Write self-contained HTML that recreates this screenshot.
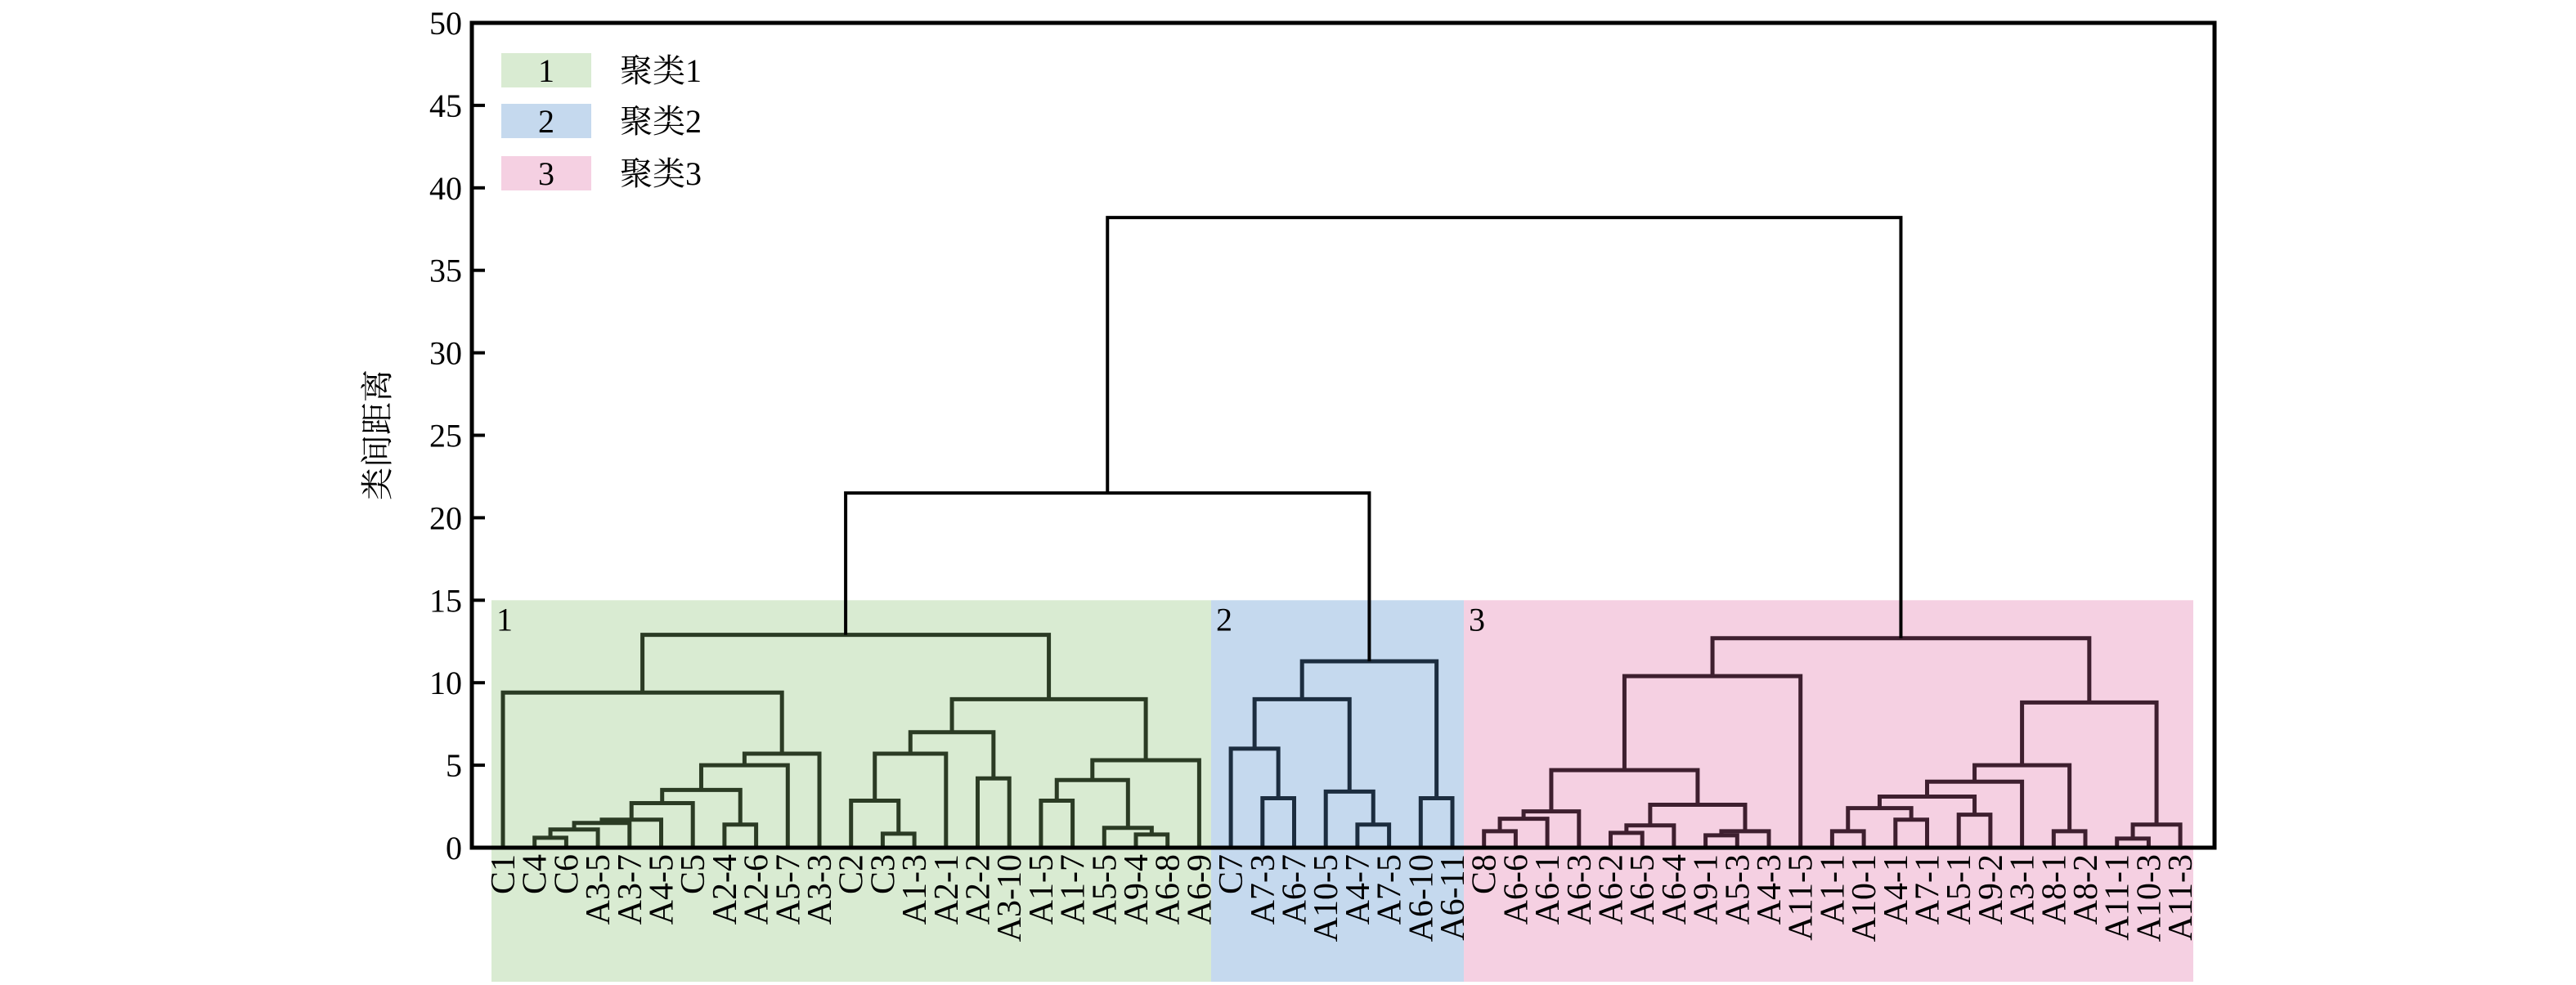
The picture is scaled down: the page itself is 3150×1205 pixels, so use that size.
<!DOCTYPE html>
<html><head><meta charset="utf-8"><style>
html,body{margin:0;padding:0;background:#fff;}
svg{display:block;}
text{font-family:"Liberation Serif","Noto Serif CJK SC",serif;}
</style></head><body>
<svg id="chart" width="3150" height="1205" viewBox="0 0 3150 1205" xmlns="http://www.w3.org/2000/svg">
<g id="bands"></g>
<g id="links"></g>
<g id="frame"></g>
<g id="labels"></g>
<g id="legend"></g>
</svg>
<script>
const leafNames=["C1","C4","C6","A3-5","A3-7","A4-5","C5","A2-4","A2-6","A5-7","A3-3","C2","C3","A1-3","A2-1","A2-2","A3-10","A1-5","A1-7","A5-5","A9-4","A6-8","A6-9",
"C7","A7-3","A6-7","A10-5","A4-7","A7-5","A6-10","A6-11",
"C8","A6-6","A6-1","A6-3","A6-2","A6-5","A6-4","A9-1","A5-3","A4-3","A11-5","A1-1","A10-1","A4-1","A7-1","A5-1","A9-2","A3-1","A8-1","A8-2","A11-1","A10-3","A11-3"];
const mergeLeft=[1,54,55,56,57,7,58,60,61,0,12,11,65,15,66,17,20,19,69,72,68,63,
24,23,27,26,77,29,80,
31,83,84,35,86,38,88,87,85,91,42,44,93,46,95,97,49,98,51,101,100,92,
75,105];
const mergeRight=[2,3,4,5,6,8,59,9,10,62,13,64,14,16,67,18,21,70,71,22,73,74,
25,76,28,78,79,30,81,
32,33,34,36,37,39,40,89,90,41,43,45,94,47,96,48,50,99,52,53,102,103,
82,104];
const mergeHeight=[0.6,1.1,1.5,1.7,2.7,1.4,3.5,5.0,5.7,9.4,0.85,2.85,5.7,4.2,7.0,2.85,0.8,1.2,4.1,5.3,9.0,12.9,
3.0,6.0,1.4,3.4,9.0,3.0,11.3,
1.0,1.75,2.2,0.9,1.35,0.75,1.0,2.6,4.7,10.4,1.0,1.7,2.4,2.0,3.1,4.0,1.0,5.0,0.55,1.4,8.8,12.7,
21.5,38.2];
const clusterNames=["聚类1","聚类2","聚类3"];
const clusterStart=[0,23,31];
const clusterEnd=[22,30,53];
const yTicks=[0,5,10,15,20,25,30,35,40,45,50];
const bandTop=15;

const NS="http://www.w3.org/2000/svg";
const X0=577,X1=2708,Y0=1037,Y1=28,yMax=50;
const leafX0=615,leafStep=38.7;
const xLeaf=i=>leafX0+i*leafStep;
const yv=v=>Y0-(v/yMax)*(Y0-Y1);
const bandFill=["#d9ebd2","#c5d9ee","#f5d0e2"];
const lineCol=["#2b3b24","#1c2d3f","#3e1f2f"];
function mk(tag,attrs,parent){const e=document.createElementNS(NS,tag);for(const k in attrs)e.setAttribute(k,attrs[k]);parent.appendChild(e);return e;}

const bands=document.getElementById('bands');
const bandEdges=[601,1481,1790,2682];
for(let c=0;c<3;c++){
  const r=mk('rect',{x:bandEdges[c],y:yv(bandTop),width:bandEdges[c+1]-bandEdges[c],height:1201-yv(bandTop),fill:bandFill[c]},bands);
  
  
  const t=mk('text',{x:bandEdges[c]+6,y:yv(bandTop)+37,'font-size':40,fill:'#000'},bands);
  t.textContent=String(c+1);
  
  
}

const N=leafNames.length;
const nodeX=[],nodeH=[],nodeC=[];
for(let i=0;i<N;i++){nodeX[i]=xLeaf(i);nodeH[i]=0;nodeC[i]=clusterStart.findIndex((s,c)=>i>=s&&i<=clusterEnd[c]);}
const links=document.getElementById('links');
for(let k=0;k<mergeHeight.length;k++){
  const a=mergeLeft[k],b=mergeRight[k],h=mergeHeight[k];
  const id=N+k;
  nodeX[id]=(nodeX[a]+nodeX[b])/2;nodeH[id]=h;
  nodeC[id]=(nodeC[a]===nodeC[b])?nodeC[a]:-1;
  const col=nodeC[id]<0?'#000':lineCol[nodeC[id]];
  const w=nodeC[id]<0?4:5;
  const p=mk('path',{d:`M${nodeX[a]},${yv(nodeH[a])}V${yv(h)}H${nodeX[b]}V${yv(nodeH[b])}`,fill:'none',stroke:col,'stroke-width':w,'stroke-linejoin':'miter'},links);
  
  
}

const frame=document.getElementById('frame');
const fr=mk('rect',{x:X0,y:Y1,width:X1-X0,height:Y0-Y1,fill:'none',stroke:'#000','stroke-width':5},frame);


for(const v of yTicks){
  const l=mk('line',{x1:X0,x2:X0+16,y1:yv(v),y2:yv(v),stroke:'#000','stroke-width':4},frame);
  
  
  const t=mk('text',{x:X0-12,y:yv(v)+14,'text-anchor':'end','font-size':40},frame);
  t.textContent=String(v);
  
  
}
const yt=mk('text',{transform:'translate(475,532) rotate(-90)','text-anchor':'middle','font-size':40},frame);
yt.textContent='类间距离';



const labels=document.getElementById('labels');
for(let i=0;i<N;i++){
  const t=mk('text',{transform:`translate(${xLeaf(i)+14},1045) rotate(-90)`,'text-anchor':'end','font-size':42},labels);
  t.textContent=leafNames[i];
  
  
}

const legend=document.getElementById('legend');
const legY=[65,127,191];
for(let c=0;c<3;c++){
  const g=mk('g',{},legend);
  
  
  mk('rect',{x:613,y:legY[c],width:110,height:42,fill:bandFill[c]},g);
  const n=mk('text',{x:668,y:legY[c]+35,'text-anchor':'middle','font-size':40},g);
  n.textContent=String(c+1);
  const t=mk('text',{x:758,y:legY[c]+35,'font-size':40},g);
  t.textContent=clusterNames[c];
}
</script>
</body></html>
